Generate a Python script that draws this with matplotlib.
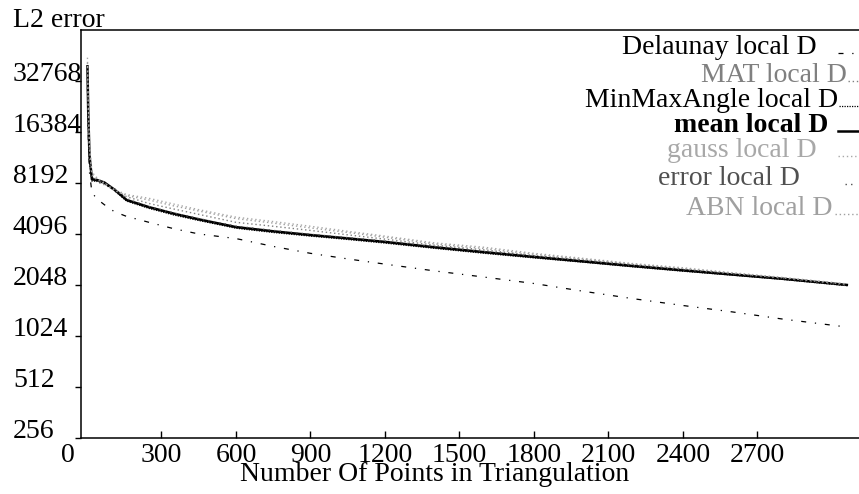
import matplotlib
matplotlib.use("Agg")
import matplotlib.pyplot as plt
from matplotlib.lines import Line2D
from matplotlib.transforms import ScaledTranslation

plt.rcParams['font.family'] = ['Liberation Serif', 'DejaVu Serif']
plt.rcParams['font.size'] = 20

# number of points in the triangulation
n_points = [2, 5, 10, 20, 40, 70, 110, 160, 250, 350, 450, 600, 750, 900, 1050,
            1200, 1400, 1600, 1800, 2000, 2200, 2400, 2600, 2800, 3060]

# L2 error, one list per method
delaunay = [30000, 16000, 9500, 7200, 6600, 6100, 5550, 5200, 4800, 4400, 4100, 3850, 3460,
            3150, 2920, 2720, 2480, 2280, 2090, 1880, 1700, 1550, 1420, 1290, 1157]
mat = [36000, 20000, 12500, 9000, 8300, 8000, 7500, 6800, 6200, 5750, 5350, 4800, 4550,
       4300, 4050, 3820, 3520, 3300, 3060, 2880, 2700, 2540, 2390, 2250, 2060]
minmaxangle = [34000, 19000, 11000, 8400, 8400, 8150, 7400, 6400, 5800, 5300, 4920, 4430, 4180,
               3980, 3800, 3620, 3370, 3150, 2960, 2790, 2620, 2470, 2340, 2210, 2030]
mean = [40000, 22000, 12000, 8600, 8540, 8250, 7500, 6500, 5900, 5400, 5000, 4500, 4250,
        4040, 3860, 3680, 3420, 3200, 3000, 2820, 2650, 2500, 2360, 2230, 2050]
gauss = [45000, 25000, 14000, 9500, 8800, 8200, 7500, 7000, 6650, 6150, 5700, 5150, 4850,
         4550, 4250, 3980, 3630, 3420, 3150, 2940, 2740, 2590, 2420, 2270, 2080]
error = [38000, 21000, 11500, 8800, 8600, 8200, 7600, 6600, 5950, 5450, 5050, 4560, 4300,
         4080, 3900, 3720, 3460, 3230, 3030, 2850, 2670, 2520, 2380, 2240, 2040]
abn = [42000, 24000, 13000, 9200, 8600, 8100, 7400, 6900, 6500, 6000, 5600, 5050, 4750,
       4450, 4180, 3920, 3580, 3360, 3110, 2910, 2720, 2560, 2400, 2260, 2070]

labels = ["Delaunay local D", "MAT local D", "MinMaxAngle local D", "mean local D",
          "gauss local D", "error local D", "ABN local D"]
x_ticks = [0, 300, 600, 900, 1200, 1500, 1800, 2100, 2400, 2700]
y_ticks = [256, 512, 1024, 2048, 4096, 8192, 16384, 32768]

series = [delaunay, mat, minmaxangle, mean, gauss, error, abn]
styles = [
    dict(color='black', lw=0.9, dashes=[4, 7, 1, 7]),
    dict(color='#808080', lw=1.0, dashes=[1, 2]),
    dict(color='black', lw=0.9, dashes=[1, 1]),
    dict(color='black', lw=1.8),
    dict(color='#a8a8a8', lw=1.0, dashes=[1, 2]),
    dict(color='#505050', lw=1.0, dashes=[1, 3]),
    dict(color='#a0a0a0', lw=1.0, dashes=[1, 2]),
]

W, H = 859, 494
fig = plt.figure(figsize=(W / 100, H / 100), dpi=100)
ax = fig.add_axes([81 / W, 56 / H, 778 / W, 408 / H])

for vals, st in zip(series, styles):
    ax.plot(n_points, vals, **st)

ax.set_yscale('log', base=2)
ax.set_ylim(256, 65536)
ax.set_xlim(-24, 3109)
ax.set_yticks(y_ticks)
ax.set_yticklabels([str(v) for v in y_ticks])
ax.minorticks_off()
ax.set_xticks(x_ticks)
ax.set_xticklabels([str(v) for v in x_ticks])

ax.spines['right'].set_visible(False)
for s in ['left', 'bottom', 'top']:
    ax.spines[s].set_linewidth(1.1)

ax.tick_params(axis='y', direction='out', length=4, width=1, pad=45)
ax.tick_params(axis='x', direction='in', length=5, width=1, pad=3.5)
plt.setp(ax.get_yticklabels(), ha='left', va='baseline')

# the "0" label sits left of the axis corner
lbl0 = ax.get_xticklabels()[0]
lbl0.set_transform(lbl0.get_transform() + ScaledTranslation(-0.19, 0, fig.dpi_scale_trans))
ax.xaxis.get_major_ticks()[0].tick1line.set_visible(False)

fig.text(13 / W, 1 - 27 / H, "L2 error", ha='left', va='baseline')
fig.text(435 / W, 1 - 481 / H, "Number Of Points in Triangulation", ha='center', va='baseline')

# legend: right aligned labels with a small line sample after each
leg_base = [54, 82, 107, 132, 157, 185, 215]
leg_right = [817, 847, 838, 828, 817, 800, 833]
leg_sample = [(838, 858), (848, 858), (839, 858), (838, 858), (838, 856), (845, 855), (835, 858)]
leg_colors = ['black', '#808080', 'black', 'black', '#a8a8a8', '#505050', '#a0a0a0']
for lab, yb, xr, (x0, x1), c, st in zip(labels, leg_base, leg_right, leg_sample, leg_colors, styles):
    fig.text(xr / W, 1 - yb / H, lab, ha='right', va='baseline', color=c,
             fontweight='bold' if lab.startswith('mean') else 'normal')
    fig.add_artist(Line2D([x0 / W, x1 / W], [1 - (yb - 1) / H] * 2, transform=fig.transFigure, **st))

fig.savefig("out.png", dpi=100)
